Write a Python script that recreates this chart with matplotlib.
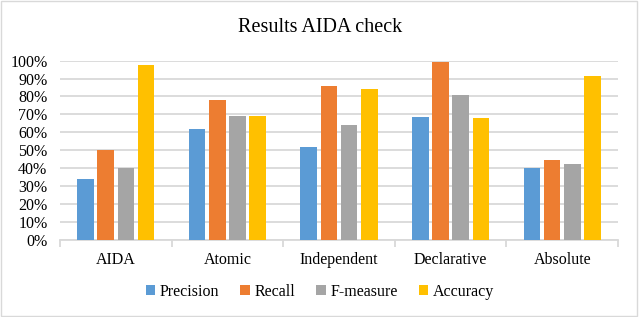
import numpy as np
import matplotlib.pyplot as plt
from matplotlib.patches import Rectangle

categories = ['AIDA', 'Atomic', 'Independent', 'Declarative', 'Absolute']
series = ['Precision', 'Recall', 'F-measure', 'Accuracy']
precision = [0.336, 0.616, 0.515, 0.685, 0.401]
recall = [0.50, 0.782, 0.86, 0.991, 0.446]
fmeasure = [0.40, 0.689, 0.642, 0.81, 0.422]
accuracy = [0.978, 0.689, 0.842, 0.679, 0.914]
colors = ['#5B9BD5', '#ED7D31', '#A5A5A5', '#FFC000']

plt.rcParams['font.family'] = ['Liberation Serif', 'DejaVu Serif']

fig = plt.figure(figsize=(6.4, 3.17), dpi=100)
ax = fig.add_axes([60 / 640, 1 - 239.5 / 317, 558 / 640, 178.8 / 317])

x = np.arange(len(categories))
width = 0.147
pitch = 0.181
values = [precision, recall, fmeasure, accuracy]
for i, (name, vals) in enumerate(zip(series, values)):
    ax.bar(x + (i - 1.5) * pitch, vals, width, color=colors[i], label=name, zorder=3)

ax.set_xlim(-0.5, len(categories) - 0.5)
ax.set_ylim(0, 1.0)
ax.set_yticks(np.arange(0, 1.01, 0.1))
ax.set_yticklabels(['%d%%' % round(v * 100) for v in np.arange(0, 1.01, 0.1)], fontsize=11.5)
ax.yaxis.grid(True, color='#D9D9D9', linewidth=1.3, zorder=0)
ax.tick_params(axis='y', length=0, pad=9)

ax.set_xticks(x)
ax.set_xticklabels(categories, fontsize=11.5)
ax.set_xticks(np.arange(-0.5, len(categories), 1), minor=True)
ax.tick_params(axis='x', which='major', length=0, pad=9)
ax.tick_params(axis='x', which='minor', length=5, color='#D9D9D9', width=1.3)

for s in ['top', 'right', 'left']:
    ax.spines[s].set_visible(False)
ax.spines['bottom'].set_color('#D9D9D9')
ax.spines['bottom'].set_linewidth(1.3)

fig.text(0.5, 1 - 27 / 317, 'Results AIDA check', fontsize=14.5, ha='center', va='center')

fig.legend(loc='center', bbox_to_anchor=(0.5, 1 - 292 / 317), ncol=4, frameon=False,
           fontsize=11.5, handlelength=0.6, handleheight=0.6, handletextpad=0.3,
           columnspacing=1.3)

fig.patches.append(Rectangle((0.002, 0.003), 0.994, 0.994, transform=fig.transFigure,
                             fill=False, edgecolor='#D9D9D9', linewidth=1.0))

fig.savefig('out.png', dpi=100)
